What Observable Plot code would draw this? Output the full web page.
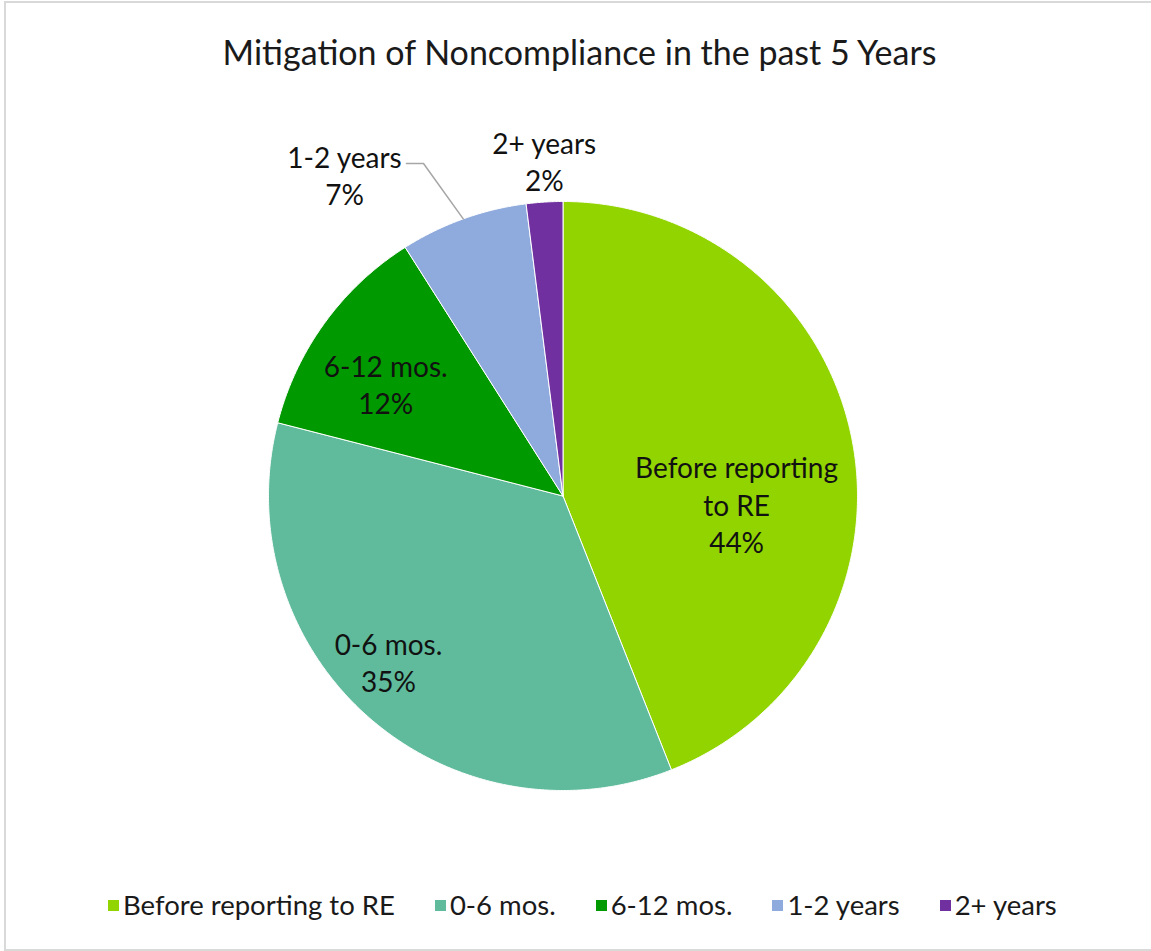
<!DOCTYPE html>
<html><head><meta charset="utf-8">
<script src="https://cdn.jsdelivr.net/npm/d3@7"></script>
<script src="https://cdn.jsdelivr.net/npm/@observablehq/plot@0.6"></script>
<style>
  html,body{margin:0;padding:0;background:#fff;}
  body{width:1151px;height:951px;position:relative;overflow:hidden;font-family:Lato,"Open Sans",sans-serif;color:#1a1a1a;}
  #frame{position:absolute;left:4px;top:1px;width:1170px;height:950px;border:2px solid #d9d9d9;box-sizing:border-box;}
  #chart{position:absolute;left:0;top:0;}
  #title{position:absolute;left:4px;top:31px;width:1151px;text-align:center;font-size:34px;line-height:42px;white-space:nowrap;}
  #legend{position:absolute;left:108px;top:888px;display:flex;align-items:center;gap:40px;font-size:27.5px;line-height:34px;white-space:nowrap;}
  #legend .item{display:flex;align-items:center;}
  #legend .sw{display:inline-block;width:11px;height:11px;margin-right:4px;}
</style>
</head><body>
<div id="frame"></div>
<div id="chart"></div>
<div id="title"></div>
<div id="legend"></div>
<script>
// ---- data ----
const title = "Mitigation of Noncompliance in the past 5 Years";
const categories = ["Before reporting to RE", "0-6 mos.", "6-12 mos.", "1-2 years", "2+ years"];
const percents = [44, 35, 12, 7, 2];
const labelNames = ["Before reporting\nto RE", "0-6 mos.", "6-12 mos.", "1-2 years", "2+ years"];
const colors = ["#92d400", "#5fbb9b", "#009900", "#8faadc", "#7030a0"];

// ---- layout ----
const W = 1151, H = 870;
const cx = 562.5, cy = 495.5, R = 294.5;
// label block centers, polar (degrees clockwise from 12 o'clock, radius in pie radii)
const labelPolar = [[92.5, 0.59], [226.5, 0.817], [302.4, 0.713], [325.8, 1.32], [356.8, 1.141]];
const leaderFor = 3; // slice with a leader line

const arcs = d3.pie().sort(null).value(d => d)(percents);

const sliceMarks = arcs.map((a, i) => {
  const n = Math.max(4, Math.ceil((a.endAngle - a.startAngle) / 0.005));
  const pts = [{x: 0, y: 0}];
  for (let k = 0; k <= n; k++) {
    const t = a.startAngle + (a.endAngle - a.startAngle) * k / n;
    pts.push({x: Math.sin(t), y: Math.cos(t)});
  }
  pts.push({x: 0, y: 0});
  return Plot.line(pts, {x: "x", y: "y", fill: colors[i], stroke: "white", strokeWidth: 1, strokeLinejoin: "round", curve: "linear"});
});

const labels = arcs.map((a, i) => {
  const [deg, r] = labelPolar[i];
  const t = deg * Math.PI / 180;
  return {x: r * Math.sin(t), y: r * Math.cos(t), text: labelNames[i] + "\n" + percents[i] + "%"};
});

// leader line for the small outside label
const la = arcs[leaderFor];
const mid = (la.startAngle + la.endAngle) / 2;
const lab = labels[leaderFor];
const endPt = {x: lab.x + 62 / R, y: lab.y + 11 / R};
const elbow = {x: endPt.x + 17 / R, y: endPt.y};
const leader = [endPt, elbow, {x: Math.sin(mid), y: Math.cos(mid)}];

const plot = Plot.plot({
  width: W, height: H,
  margin: 0,
  style: {background: "transparent", overflow: "visible"},
  x: {domain: [-1, 1], range: [cx - R, cx + R], axis: null},
  y: {domain: [-1, 1], range: [cy + R, cy - R], axis: null},
  marks: [
    ...sliceMarks,
    Plot.line(leader, {x: "x", y: "y", stroke: "#a6a6a6", strokeWidth: 1.5}),
    Plot.text(labels, {x: "x", y: "y", text: "text", fontSize: 28, lineHeight: 1.33, lineAnchor: "middle", textAnchor: "middle", fill: "#111", fontFamily: "Lato, 'Open Sans', sans-serif"})
  ]
});
document.getElementById("chart").appendChild(plot);
document.getElementById("title").textContent = title;

const legend = document.getElementById("legend");
categories.forEach((c, i) => {
  const item = document.createElement("div");
  item.className = "item";
  const sw = document.createElement("span");
  sw.className = "sw";
  sw.style.background = colors[i];
  const tx = document.createElement("span");
  tx.textContent = c;
  item.appendChild(sw); item.appendChild(tx);
  legend.appendChild(item);
});
</script>
</body></html>
